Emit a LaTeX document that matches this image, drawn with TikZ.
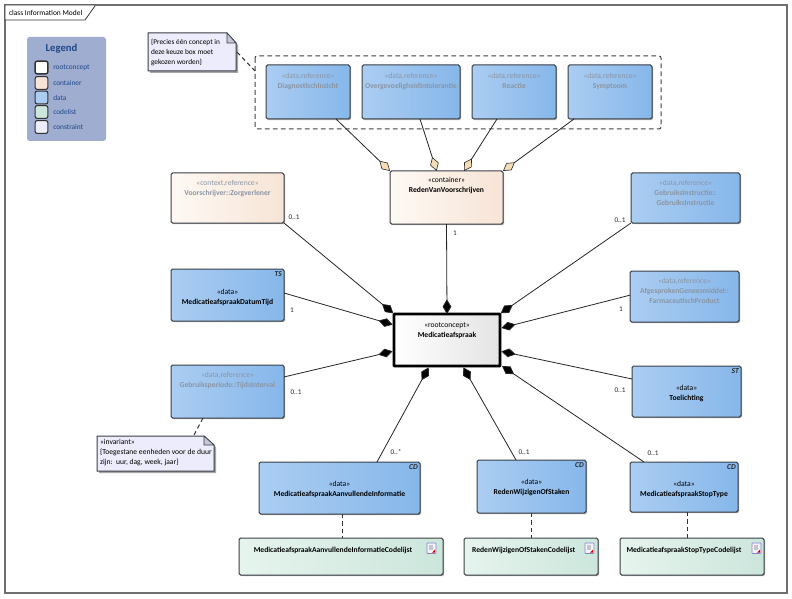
\documentclass[tikz,border=0pt]{standalone}
\usepackage{fontspec}
\setmainfont{Carlito}
\usetikzlibrary{arrows.meta,shadows,calc}
\definecolor{frameC}{HTML}{707070}
\definecolor{edgeC}{HTML}{3A3F46}
\definecolor{refC}{HTML}{8A95A3}
\definecolor{legC}{HTML}{9FADD0}
\definecolor{legT}{HTML}{1F4788}
\definecolor{noteC}{HTML}{ECECFC}
\definecolor{foldC}{HTML}{C6C6D8}
\definecolor{aggC}{HTML}{F4DDB4}
\definecolor{dataL}{HTML}{ABCDF2}
\definecolor{dataR}{HTML}{86B7EA}
\definecolor{contL}{HTML}{FEF9F4}
\definecolor{contR}{HTML}{F7E4D6}
\definecolor{codeL}{HTML}{E6F4EE}
\definecolor{codeR}{HTML}{CCE6DC}
\definecolor{rootR}{HTML}{E4E4E4}
\tikzset{
  x=0.75pt,y=-0.75pt,
  umlbox/.style={draw=edgeC,line width=0.75pt,rounded corners=1.2pt,inner sep=0pt,outer sep=0pt,
     drop shadow={shadow xshift=0.9pt,shadow yshift=-0.9pt,fill=black,opacity=0.3}},
  databox/.style={umlbox,left color=dataL,right color=dataR},
  contbox/.style={umlbox,left color=contL,right color=contR},
  codebox/.style={umlbox,left color=codeL,right color=codeR},
  rootbox/.style={umlbox,draw=black,line width=2.2pt,rounded corners=0.5pt,left color=white,right color=rootR},
  plainbox/.style={inner sep=0pt,outer sep=0pt},
  conn/.style={draw=black!85,line width=0.6pt},
  compo/.style={conn,{Diamond[length=11pt,width=6.6pt,fill=black]}-},
  aggr/.style={conn,{Diamond[length=11pt,width=6.6pt,fill=aggC,line width=0.45pt]}-},
  dep/.style={draw=black!80,line width=0.75pt,dash pattern=on 3.2pt off 2.4pt},
  mult/.style={font=\fontsize{5.4}{6.5}\selectfont,text=black!85,inner sep=0pt},
  tag/.style={font=\fontsize{5.6}{6.5}\selectfont\bfseries\itshape,text=black!85,inner sep=1.5pt,anchor=north east},
  swatch/.style={draw=black!80,line width=0.8pt,rounded corners=1.6pt,minimum width=9.6pt,minimum height=9.6pt,inner sep=0pt},
  legtext/.style={font=\fontsize{5.5}{6.5}\selectfont,text=legT,anchor=west,inner sep=0pt},
}
% name, style, x1,y1,x2,y2, first-baseline offset (px), text
\newcommand{\bx}[8]{%
  \pgfmathsetmacro{\bcx}{(#3+#5)/2}\pgfmathsetmacro{\bcy}{(#4+#6)/2}%
  \pgfmathsetmacro{\bw}{(#5-#3)*0.75}\pgfmathsetmacro{\bh}{(#6-#4)*0.75}%
  \pgfmathsetmacro{\bb}{#7*0.75}%
  \node[#2,minimum width=\bw pt,minimum height=\bh pt] (#1) at (\bcx,\bcy)
   {\parbox[c][\bh pt][t]{\bw pt}{\centering\fontsize{5.7}{7.5}\selectfont\rule{0pt}{\bb pt}#8\par}};}
\newcommand{\nm}[1]{\textbf{#1}}
\newcommand{\rf}[2]{\textcolor{refC}{«#1»\\\textbf{#2}}}
\newcommand{\docicon}[2]{%
  \draw[draw=blue!35!gray!70,fill=blue!5,line width=0.5pt,rounded corners=0.4pt] (#1,#2) rectangle ++(9,10.5);
  \fill[gray!45] (#1+2,#2+2) rectangle ++(3.5,5);
  \fill[red!85!black] (#1+8,#2+6.5) -- (#1+8,#2+9.5) -- (#1+5,#2+9.5) -- cycle;}
\begin{document}
\begin{tikzpicture}
\useasboundingbox (0,0) rectangle (792,599);
\fill[white] (0,0) rectangle (792,599);
% frame
\draw[frameC,line width=0.9pt] (5,143) -- (5,5) -- (787,5) -- (787,593) -- (5,593) -- (5,143);
\draw[black!80,line width=0.6pt,fill=white] (5,5) -- (95,5) -- (95,6) -- (85,20) -- (5,20) -- cycle;
\node[plainbox,anchor=west,font=\fontsize{5.6}{6.5}\selectfont] (frameTitle) at (9,12.5) {class Information Model};
% legend
\fill[legC,rounded corners=2pt] (27,37) rectangle (106,141);
\node[plainbox,font=\fontsize{8}{9}\selectfont\bfseries,text=legT] (legTitle) at (61.5,48.5) {Legend};
\node[swatch,line width=1.1pt,fill=white] (s1) at (41.5,67.5) {};
\node[swatch,fill=contR] (s2) at (41.5,83) {};
\node[swatch,fill=dataL] (s3) at (41.5,97.5) {};
\node[swatch,fill=codeR] (s4) at (41.5,112) {};
\node[swatch,fill=noteC] (s5) at (41.5,127) {};
\node[legtext] (l1) at (53,67.5) {rootconcept};
\node[legtext] (l2) at (53,83) {container};
\node[legtext] (l3) at (53,97.5) {data};
\node[legtext] (l4) at (53,112) {codelist};
\node[legtext] (l5) at (53,127) {constraint};
% choice boundary
\draw[black!75,line width=0.75pt,dash pattern=on 3.6pt off 2.4pt,rounded corners=1.5pt] (255,56) rectangle (661,129);
\coordinate (bndNW) at (255,71);
% choice note
\fill[black!35] (150,35) -- (229,35) -- (238,45) -- (238,73) -- (150,73) -- cycle;
\draw[edgeC,line width=0.75pt,fill=noteC] (148,33) -- (227,33) -- (236,43) -- (236,71) -- (148,71) -- cycle;
\draw[edgeC,line width=0.5pt,fill=foldC] (227,33) -- (227,43) -- (236,43) -- cycle;
\bx{noteChoice}{plainbox}{151}{34}{232}{70}{11}{\raggedright\fontsize{5.5}{7.5}\selectfont\mbox{\{Precies één concept in}\\deze keuze box moet\\gekozen worden\}}
% invariant note
\fill[black!35] (99,438) -- (206,438) -- (216,447) -- (216,473) -- (99,473) -- cycle;
\draw[edgeC,line width=0.75pt,fill=noteC] (97,436) -- (204,436) -- (214,445) -- (214,471) -- (97,471) -- cycle;
\draw[edgeC,line width=0.5pt,fill=foldC] (204,436) -- (204,445) -- (214,445) -- cycle;
\bx{noteInv}{plainbox}{100}{437}{214}{470}{7}{\raggedright«invariant»\\\mbox{\{Toegestane eenheden voor de duur}\\zijn:\ \ uur, dag, week, jaar\}}
% top row
\bx{diag}{databox}{266}{65}{350}{119}{14}{\rf{data,reference}{DiagnostischInzicht}}
\bx{over}{databox}{362}{65}{460}{119}{14}{\rf{data,reference}{OvergevoeligheidIntolerantie}}
\bx{reac}{databox}{472}{65}{556}{119}{14}{\rf{data,reference}{Reactie}}
\bx{symp}{databox}{568}{65}{652}{119}{14}{\rf{data,reference}{Symptoom}}
\bx{cont}{contbox}{390}{171}{503}{224}{12}{«container»\\\nm{RedenVanVoorschrijven}}
% left column
\bx{voor}{contbox}{171}{173}{284}{223}{12}{\rf{context,reference}{Voorschrijver::Zorgverlener}}
\bx{datu}{databox}{171}{269}{284}{321}{25}{«data»\\\nm{MedicatieafspraakDatumTijd}}
\bx{peri}{databox}{171}{365}{284}{418}{12}{\rf{data,reference}{Gebruiksperiode::TijdsInterval}}
% right column
\bx{inst}{databox}{631}{173}{740}{223}{12}{\textcolor{refC}{«data,reference»\\\textbf{GebruiksInstructie::}\\\textbf{GebruiksInstructie}}}
\bx{afge}{databox}{630}{271}{739}{322}{12}{\textcolor{refC}{«data,reference»\\\textbf{AfgesprokenGeneesmiddel::}\\\textbf{FarmaceutischProduct}}}
\bx{toel}{databox}{632}{366}{741}{417}{24}{«data»\\\nm{Toelichting}}
% root
\bx{root}{rootbox}{394}{314}{500}{366}{13}{«rootconcept»\\\nm{Medicatieafspraak}}
% bottom row
\bx{aanv}{databox}{259}{462}{420}{514}{24}{«data»\\\nm{MedicatieafspraakAanvullendeInformatie}}
\bx{rwos}{databox}{477}{460}{586}{513}{24}{«data»\\\nm{RedenWijzigenOfStaken}}
\bx{styp}{databox}{630}{462}{738}{512}{24}{«data»\\\nm{MedicatieafspraakStopType}}
% codelists
\bx{caan}{codebox}{239}{538}{443}{575}{14}{\hspace*{-12pt}\nm{MedicatieafspraakAanvullendeInformatieCodelijst}}
\bx{crwo}{codebox}{464}{538}{598}{575}{14}{\hspace*{-11pt}\nm{RedenWijzigenOfStakenCodelijst}}
\bx{csty}{codebox}{620}{538}{764}{575}{14}{\hspace*{-12pt}\nm{MedicatieafspraakStopTypeCodelijst}}
\docicon{427}{543}
\docicon{585}{543}
\docicon{752}{543}
% type tags
\node[tag] (tTS) at (datu.north east) {TS};
\node[tag] (tST) at (toel.north east) {ST};
\node[tag] (tCD1) at (aanv.north east) {CD};
\node[tag] (tCD2) at (rwos.north east) {CD};
\node[tag] (tCD3) at (styp.north east) {CD};
% aggregations to the container
\draw[aggr] (cont.north west) -- ([xshift=-10.5pt]diag.south east);
\draw[aggr] ([xshift=35pt]cont.north west) -- ([xshift=43.5pt]over.south west);
\draw[aggr] ([xshift=55.5pt]cont.north west) -- ([xshift=-12.75pt]reac.south);
\draw[aggr] (cont.north east) -- ([xshift=4.5pt]symp.south west);
% compositions to the root
\draw[compo] (root.north) -- (cont.south);
\draw[compo] ([xshift=-0.5pt,yshift=0.5pt]root.north west) -- (voor.south east);
\draw[compo] ([xshift=-1pt,yshift=-8pt]root.north west) -- ([yshift=1.5pt]datu.east);
\draw[compo] ([xshift=-1pt,yshift=11pt]root.south west) -- ([yshift=10.9pt]peri.east);
\draw[compo] ([xshift=0.5pt,yshift=0.5pt]root.north east) -- (inst.south west);
\draw[compo] ([xshift=1pt,yshift=-10.5pt]root.north east) -- ([yshift=1pt]afge.west);
\draw[compo] ([xshift=1pt,yshift=11pt]root.south east) -- ([yshift=9.4pt]toel.west);
\draw[compo] ([xshift=26pt,yshift=-1pt]root.south west) -- ([xshift=88.5pt]aanv.north west);
\draw[compo] ([xshift=52pt,yshift=-1pt]root.south west) -- ([xshift=29.25pt]rwos.north west);
\draw[compo] ([xshift=1.5pt]root.south east) -- ([xshift=10.5pt]styp.north west);
% dependencies
\draw[dep] ([xshift=3.75pt]noteChoice.east) -- (bndNW);
\draw[dep] ([xshift=-18.4pt]peri.south) -- ([xshift=27pt]noteInv.north);
\draw[dep] ([xshift=2.6pt]aanv.south) -- ([xshift=2.6pt]aanv.south |- caan.north);
\draw[dep] (rwos.south) -- (rwos.south |- crwo.north);
\draw[dep] ([xshift=2.25pt]styp.south) -- ([xshift=2.25pt]styp.south |- csty.north);
% multiplicities
\node[mult] (m1) at (455,233) {1};
\node[mult] (m2) at (294,217) {0..1};
\node[mult] (m3) at (292,310) {1};
\node[mult] (m4) at (296,392) {0..1};
\node[mult] (m5) at (620,220) {0..1};
\node[mult] (m6) at (621,309) {1};
\node[mult] (m7) at (620,390) {0..1};
\node[mult] (m8) at (396,452) {0..*};
\node[mult] (m9) at (524,452) {0..1};
\node[mult] (m10) at (653,453) {0..1};
\end{tikzpicture}
\end{document}
